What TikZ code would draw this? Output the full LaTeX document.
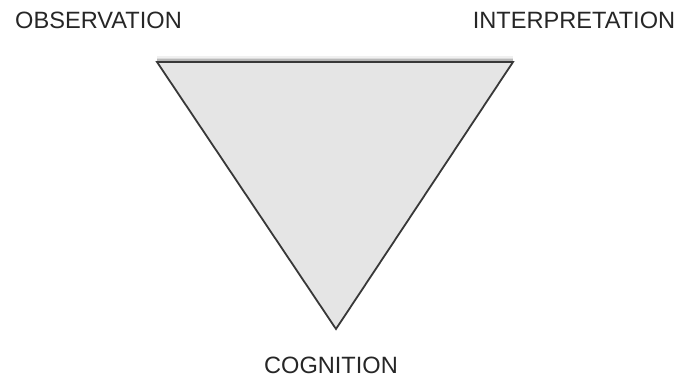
\documentclass[tikz,border=0pt]{standalone}
\usepackage{fontspec}
\setmainfont{Liberation Sans}
\begin{document}
\begin{tikzpicture}[x=1pt,y=1pt,
  lbl/.style={anchor=base,inner sep=0pt,font=\fontsize{23.6}{27}\selectfont,text=black!85},
  tri/.style={draw=black!78,line width=1.8pt,fill=black!10,line join=miter}]
\useasboundingbox (0,0) rectangle (681,377);
\coordinate (tl) at (157,315);
\coordinate (tr) at (513,315);
\coordinate (bt) at (336,48);
% soft shadow along the top edge
\draw[black!28,line width=1.5pt] ([yshift=1.8pt]tl) -- ([yshift=1.8pt]tr);
\draw[black!14,line width=1.5pt] ([yshift=3.3pt]tl) -- ([yshift=3.3pt]tr);
\draw[black!6,line width=1.5pt] ([yshift=4.8pt]tl) -- ([yshift=4.8pt]tr);
\draw[tri] (tl) -- (tr) -- (bt) -- cycle;
\node[lbl] (obs) at (98.5,348) {OBSERVATION};
\node[lbl] (int) at (574,348) {INTERPRETATION};
\node[lbl] (cog) at (331,3.5) {COGNITION};
\end{tikzpicture}
\end{document}
